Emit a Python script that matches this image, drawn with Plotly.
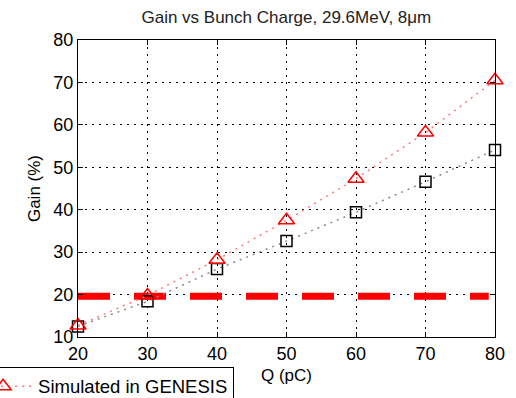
import plotly.graph_objects as go

# Bunch charge (pC) and FEL gain (%)
charge_pc = [20, 30, 40, 50, 60, 70, 80]
gain_genesis = [12.7, 19.8, 28.2, 37.5, 47.3, 58.2, 70.5]
gain_model = [12.5, 18.4, 26.0, 32.6, 39.4, 46.6, 54.1]

# Threshold gain level
threshold_x = [20, 79.1]
threshold_gain = [19.6, 19.6]

x_ticks = [20, 30, 40, 50, 60, 70, 80]
y_ticks = [10, 20, 30, 40, 50, 60, 70, 80]

FONT = "Liberation Sans, Arial, sans-serif"

fig = go.Figure()

fig.add_trace(go.Scatter(
    x=threshold_x, y=threshold_gain, mode="lines",
    line=dict(color="#ff0000", width=7, dash="32px,24px"),
    showlegend=False, hoverinfo="skip",
))

fig.add_trace(go.Scatter(
    x=charge_pc, y=gain_model, mode="lines+markers",
    line=dict(color="#8a8a8a", width=1.5, dash="2px,5px"),
    marker=dict(symbol="square-open", size=11, color="black", line=dict(width=1.5)),
    cliponaxis=False, showlegend=False,
))

fig.add_trace(go.Scatter(
    x=charge_pc, y=gain_genesis, mode="lines+markers",
    name="Simulated in GENESIS",
    line=dict(color="#ff7a7a", width=1.5, dash="2px,5px"),
    marker=dict(symbol="triangle-up-open", size=14, color="#ff0000", line=dict(width=1.5)),
    cliponaxis=False,
))

axis_common = dict(
    showline=True, linecolor="black", linewidth=1.2, mirror="ticks",
    ticks="inside", ticklen=5, tickcolor="black", tickwidth=1,
    showgrid=True, gridcolor="black", gridwidth=1, griddash="2px,5px",
    zeroline=False, automargin=False,
    tickfont=dict(family=FONT, size=18, color="black"),
)

fig.update_xaxes(
    range=[20, 80], tickvals=x_ticks,
    title=dict(text="Q (pC)", font=dict(family=FONT, size=17, color="black"), standoff=6),
    **axis_common,
)
fig.update_yaxes(
    range=[10, 80], tickvals=y_ticks,
    title=dict(text="Gain (%)", font=dict(family=FONT, size=17, color="black"), standoff=8),
    **axis_common,
)

fig.update_layout(
    width=516, height=398,
    margin=dict(l=78, r=21, t=40, b=61, autoexpand=False),
    paper_bgcolor="white", plot_bgcolor="white",
    title=dict(text="Gain vs Bunch Charge, 29.6MeV, 8\u03bcm", x=0.555, xanchor="center",
               y=0.957, yanchor="middle",
               font=dict(family=FONT, size=17, color="#222222")),
    legend=dict(
        x=-0.266, y=-0.1, xanchor="left", yanchor="top",
        bordercolor="black", borderwidth=1, bgcolor="white",
        itemwidth=60,
        font=dict(family=FONT, size=18.5, color="black"),
    ),
    font=dict(family=FONT),
)

fig.write_html("out.html")
